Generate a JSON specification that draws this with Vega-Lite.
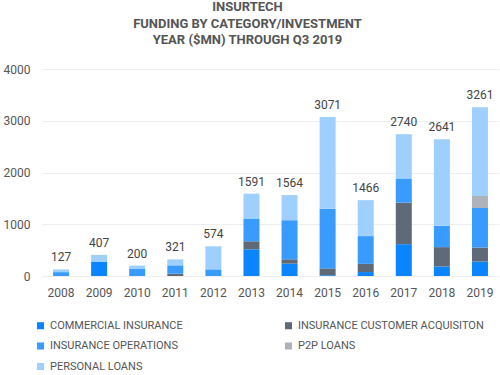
{
  "$schema": "https://vega.github.io/schema/vega-lite/v6.json",
  "autosize": {"type": "none"},
  "padding": {"left": 42, "top": 69, "right": 1, "bottom": 99},
  "width": 457,
  "height": 207,
  "background": "white",
  "title": {
    "text": ["INSURTECH", "FUNDING BY CATEGORY/INVESTMENT", "YEAR ($MN) THROUGH Q3 2019"],
    "anchor": "middle",
    "frame": "group",
    "dx": -23,
    "font": "Roboto",
    "fontSize": 13,
    "fontWeight": "bold",
    "color": "#555555",
    "lineHeight": 16.5,
    "baseline": "bottom",
    "offset": 3
  },
  "config": {
    "view": {"stroke": null},
    "font": "Roboto"
  },
  "layer": [
    {
      "data": {
        "values": [
          {"year": "2008", "category": "INSURANCE OPERATIONS", "value": 75},
          {"year": "2008", "category": "PERSONAL LOANS", "value": 52},
          {"year": "2009", "category": "COMMERCIAL INSURANCE", "value": 271},
          {"year": "2009", "category": "PERSONAL LOANS", "value": 136},
          {"year": "2010", "category": "INSURANCE OPERATIONS", "value": 135},
          {"year": "2010", "category": "PERSONAL LOANS", "value": 65},
          {"year": "2011", "category": "INSURANCE CUSTOMER ACQUISITON", "value": 45},
          {"year": "2011", "category": "INSURANCE OPERATIONS", "value": 161},
          {"year": "2011", "category": "PERSONAL LOANS", "value": 115},
          {"year": "2012", "category": "INSURANCE OPERATIONS", "value": 129},
          {"year": "2012", "category": "PERSONAL LOANS", "value": 445},
          {"year": "2013", "category": "COMMERCIAL INSURANCE", "value": 516},
          {"year": "2013", "category": "INSURANCE CUSTOMER ACQUISITON", "value": 155},
          {"year": "2013", "category": "INSURANCE OPERATIONS", "value": 440},
          {"year": "2013", "category": "PERSONAL LOANS", "value": 480},
          {"year": "2014", "category": "COMMERCIAL INSURANCE", "value": 239},
          {"year": "2014", "category": "INSURANCE CUSTOMER ACQUISITON", "value": 84},
          {"year": "2014", "category": "INSURANCE OPERATIONS", "value": 755},
          {"year": "2014", "category": "PERSONAL LOANS", "value": 486},
          {"year": "2015", "category": "COMMERCIAL INSURANCE", "value": 15},
          {"year": "2015", "category": "INSURANCE CUSTOMER ACQUISITON", "value": 132},
          {"year": "2015", "category": "INSURANCE OPERATIONS", "value": 1153},
          {"year": "2015", "category": "PERSONAL LOANS", "value": 1771},
          {"year": "2016", "category": "COMMERCIAL INSURANCE", "value": 76},
          {"year": "2016", "category": "INSURANCE CUSTOMER ACQUISITON", "value": 159},
          {"year": "2016", "category": "INSURANCE OPERATIONS", "value": 536},
          {"year": "2016", "category": "PERSONAL LOANS", "value": 695},
          {"year": "2017", "category": "COMMERCIAL INSURANCE", "value": 615},
          {"year": "2017", "category": "INSURANCE CUSTOMER ACQUISITON", "value": 803},
          {"year": "2017", "category": "INSURANCE OPERATIONS", "value": 467},
          {"year": "2017", "category": "PERSONAL LOANS", "value": 855},
          {"year": "2018", "category": "COMMERCIAL INSURANCE", "value": 184},
          {"year": "2018", "category": "INSURANCE CUSTOMER ACQUISITON", "value": 374},
          {"year": "2018", "category": "INSURANCE OPERATIONS", "value": 412},
          {"year": "2018", "category": "PERSONAL LOANS", "value": 1671},
          {"year": "2019", "category": "COMMERCIAL INSURANCE", "value": 278},
          {"year": "2019", "category": "INSURANCE CUSTOMER ACQUISITON", "value": 272},
          {"year": "2019", "category": "INSURANCE OPERATIONS", "value": 764},
          {"year": "2019", "category": "P2P LOANS", "value": 233},
          {"year": "2019", "category": "PERSONAL LOANS", "value": 1714}
        ]
      },
      "mark": {"type": "bar", "width": 16},
      "encoding": {
        "x": {
          "field": "year", "type": "ordinal",
          "scale": {"paddingInner": 0.58, "paddingOuter": 0.29},
          "axis": {"title": null, "labelAngle": 0, "domain": false, "ticks": false, "labelPadding": 11, "labelFontSize": 12, "labelColor": "#555555", "labelFont": "Roboto"}
        },
        "y": {
          "field": "value", "type": "quantitative", "aggregate": "sum", "stack": "zero",
          "scale": {"domain": [0, 4000]},
          "axis": {"title": null, "values": [0, 1000, 2000, 3000, 4000], "format": "d", "domain": false, "ticks": false, "labelPadding": 12, "labelFontSize": 12, "labelColor": "#555555", "gridColor": "#eeeeee", "labelFont": "Roboto"}
        },
        "color": {
          "field": "category", "type": "nominal",
          "scale": {
            "domain": ["COMMERCIAL INSURANCE", "INSURANCE CUSTOMER ACQUISITON", "INSURANCE OPERATIONS", "P2P LOANS", "PERSONAL LOANS"],
            "range": ["#0a84ff", "#5f6a78", "#3a9bff", "#aeb3bb", "#9fcfff"]
          },
          "legend": {
            "title": null,
            "orient": "none",
            "legendX": -7,
            "legendY": 251,
            "direction": "horizontal",
            "columns": 2,
            "columnPadding": 100,
            "rowPadding": 8.5,
            "symbolType": "square",
            "symbolSize": 50,
            "symbolStrokeWidth": 0,
            "labelFontSize": 11,
            "labelColor": "#555555",
            "labelFont": "Roboto",
            "labelLimit": 300,
            "labelOffset": 4
          }
        },
        "order": {"field": "category", "sort": "ascending"}
      }
    },
    {
      "data": {
        "values": [
          {"year": "2008", "total": 127},
          {"year": "2009", "total": 407},
          {"year": "2010", "total": 200},
          {"year": "2011", "total": 321},
          {"year": "2012", "total": 574},
          {"year": "2013", "total": 1591},
          {"year": "2014", "total": 1564},
          {"year": "2015", "total": 3071},
          {"year": "2016", "total": 1466},
          {"year": "2017", "total": 2740},
          {"year": "2018", "total": 2641},
          {"year": "2019", "total": 3261}
        ]
      },
      "mark": {"type": "text", "baseline": "bottom", "dy": -5, "fontSize": 12, "color": "#444444", "font": "Roboto"},
      "encoding": {
        "x": {"field": "year", "type": "ordinal"},
        "y": {"field": "total", "type": "quantitative"},
        "text": {"field": "total", "type": "quantitative", "format": "d"}
      }
    }
  ]
}
